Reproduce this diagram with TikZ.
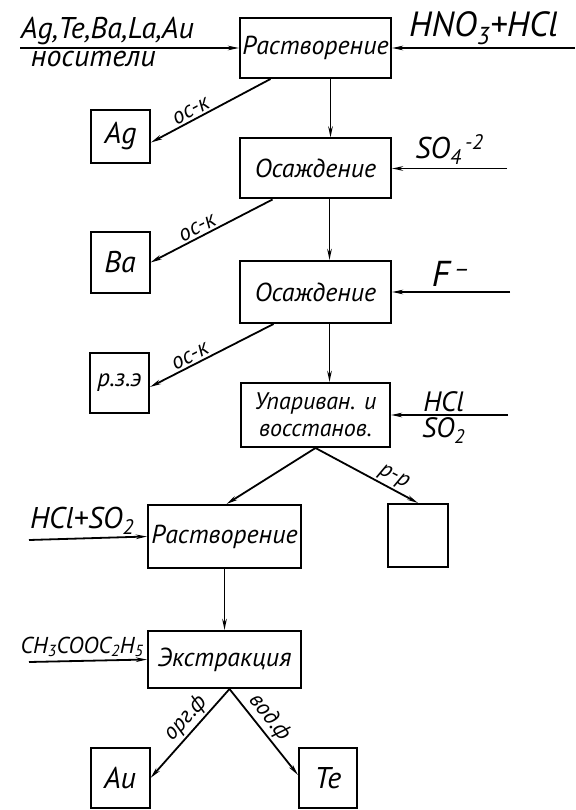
\documentclass[tikz,border=0pt]{standalone}
\usepackage{fontspec}
\setmainfont{PT Sans}
\usetikzlibrary{arrows.meta}
\tikzset{
  stage/.style={draw, line width=2pt, minimum width=151pt, minimum height=60pt, inner sep=0pt, font=\itshape\fontsize{26}{28}\selectfont},
  product/.style={draw, line width=2pt, minimum width=59pt, minimum height=58pt, inner sep=0pt, font=\itshape\fontsize{30}{32}\selectfont},
  feed/.style={line width=1.8pt, -{Stealth[length=11pt,width=4.5pt]}},
  lbl/.style={font=\itshape\fontsize{30}{32}\selectfont},
  tag/.style={font=\itshape\fontsize{23}{24}\selectfont, sloped, above, inner sep=2pt},
}
\begin{document}
\begin{tikzpicture}[x=1pt,y=-1pt]
\useasboundingbox (0,0) rectangle (575,810);
\node[stage] (rastv) at (315.5,48) {Растворение};
\node[stage] (osazhA) at (315.5,168.5) {Осаждение};
\node[stage, minimum height=62pt] (osazhB) at (315.5,292) {Осаждение};
\node[stage, minimum width=149pt, minimum height=64pt, align=center, font=\itshape\fontsize{24}{27}\selectfont] (upar) at (315.5,415) {Упариван. и\\восстанов.};
\node[stage, minimum width=153pt, minimum height=63pt] (rastvB) at (224.5,536.5) {Растворение};
\node[stage, minimum width=153pt, minimum height=57pt] (ekstr) at (224.5,659.5) {Экстракция};
\node[product, minimum height=53pt] (ag) at (120.5,136.5) {Ag};
\node[product, minimum height=61pt] (ba) at (120,262.5) {Ba};
\node[product, minimum height=60pt, font=\itshape\fontsize{25}{27}\selectfont] (rze) at (119.5,383) {р.з.э};
\node[product, minimum width=60pt, minimum height=63pt] (rr) at (418,535.5) {};
\node[product, minimum height=60pt] (au) at (120,778) {Au};
\node[product, minimum width=58pt, minimum height=60pt] (te) at (328,778) {Te};

\coordinate (inA) at (20,48);
\coordinate (inB) at (575,48);
\coordinate (inC) at (507,168.5);
\coordinate (inD) at (510,292);
\coordinate (inE) at (508,415);
\coordinate (inF) at (29,540);
\coordinate (inG) at (29,662);

\draw[feed] (inA) -- (rastv.west) node[lbl, pos=0, above right, inner sep=0pt, yshift=2pt] {Ag,Te,Ba,La,Au}
  node[lbl, pos=0, below right, xshift=8pt, inner sep=2pt] {носители};
\draw[feed] (inB) -- (rastv.east) node[lbl, midway, above, font=\itshape\fontsize{35}{37}\selectfont, inner sep=2pt] {HNO\textsubscript{3}+HCl};
\draw[feed] (inC) -- (osazhA.east) node[lbl, midway, above, inner sep=3pt] {SO\textsubscript{4}\textsuperscript{\,-2}};
\draw[feed] (inD) -- (osazhB.east) node[lbl, midway, above, font=\itshape\fontsize{36}{38}\selectfont, inner sep=5pt] {F\textsuperscript{\,–}};
\draw[feed] (inE) -- (upar.east) node[lbl, pos=0.55, above, inner sep=2pt, font=\itshape\fontsize{28}{30}\selectfont] {HCl}
  node[lbl, pos=0.55, below, inner sep=2pt, font=\itshape\fontsize{28}{30}\selectfont] {SO\textsubscript{2}};
\draw[feed] (inF) -- (rastvB.west) node[lbl, pos=0.45, above, inner sep=3pt] {HCl+SO\textsubscript{2}};
\draw[feed] (inG) -- (ekstr.west) node[lbl, pos=0.45, above, inner sep=3pt, font=\itshape\fontsize{23}{25}\selectfont] {CH\textsubscript{3}COOC\textsubscript{2}H\textsubscript{5}};

\draw[feed] ([xshift=15pt]rastv.south) -- ([xshift=15pt]osazhA.north);
\draw[feed] ([xshift=14pt]osazhA.south) -- ([xshift=14pt]osazhB.north);
\draw[feed] ([xshift=14pt]osazhB.south) -- ([xshift=14pt]upar.north);
\draw[feed] ([xshift=-45pt]rastv.south) -- ([yshift=-6pt]ag.east) node[tag, pos=0.63] {ос-к};
\draw[feed] ([xshift=-43pt]osazhA.south) -- (ba.east) node[tag, pos=0.58] {ос-к};
\draw[feed] ([xshift=-42pt]osazhB.south) -- ([yshift=-4pt]rze.east) node[tag, pos=0.64] {ос-к};
\draw[feed] (upar.south) -- ([xshift=2pt]rastvB.north);
\draw[feed] (upar.south) -- (rr.north) node[tag, pos=0.71] {р-р};
\draw[feed] (rastvB.south) -- (ekstr.north);
\draw[feed] ([xshift=5pt]ekstr.south) -- (au.east) node[tag, pos=0.43] {орг.ф};
\draw[feed] ([xshift=5pt]ekstr.south) -- ([yshift=3pt]te.west) node[tag, pos=0.43] {вод.ф};
\end{tikzpicture}
\end{document}
